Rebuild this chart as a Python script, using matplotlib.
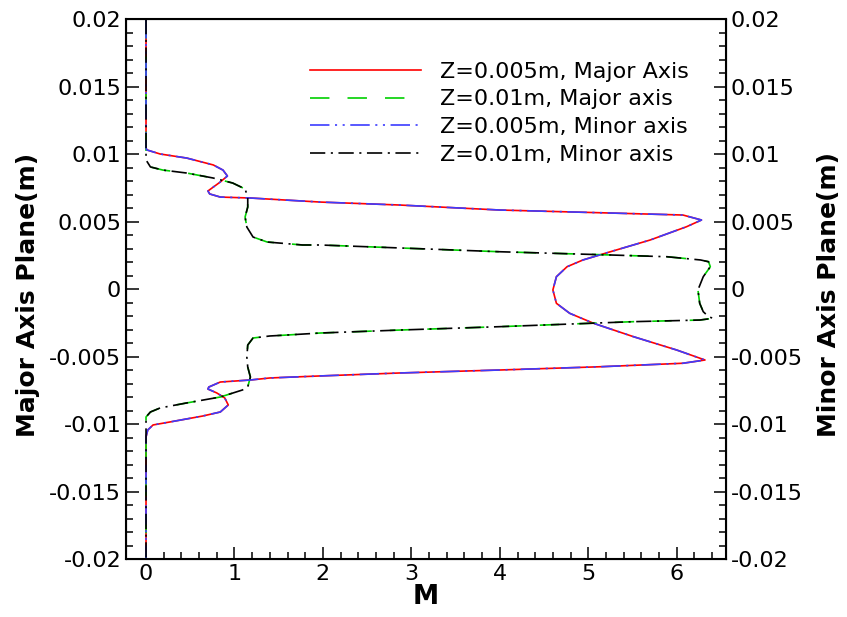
import matplotlib
matplotlib.use("Agg")
import matplotlib.pyplot as plt

plt.rcParams["font.family"] = ["DejaVu Sans"]
plt.rcParams["lines.scale_dashes"] = False

# ── Data (Mach number M vs. position on the axis plane, m) ────────────────────
m_z005 = [0, 0, 0.01, 0.16, 0.46, 0.76, 0.87, 0.92, 0.84, 0.70, 0.72, 0.84, 1.18,
          1.97, 2.87, 4.00, 5.13, 6.07, 6.28, 6.11, 5.70, 5.25, 4.94, 4.76, 4.64,
          4.60, 4.64, 4.79, 5.06, 5.51, 6.00, 6.32, 6.07, 5.13, 4.00, 2.87, 1.97,
          1.40, 1.18, 0.84, 0.71, 0.70, 0.80, 0.89, 0.93, 0.84, 0.64, 0.27, 0.08,
          0.02, 0, 0]
y_z005 = [0.0200, 0.01044, 0.01030, 0.01000, 0.00970, 0.00919, 0.00881, 0.00837,
          0.00793, 0.00726, 0.00704, 0.00681, 0.00674, 0.00644, 0.00622, 0.00585,
          0.00565, 0.00548, 0.00511, 0.00461, 0.00363, 0.00276, 0.00215, 0.00165,
          0.00091, -0.00007, -0.00106, -0.00180, -0.00254, -0.00353, -0.00452,
          -0.00526, -0.00550, -0.00576, -0.00600, -0.00622, -0.00644, -0.00659,
          -0.00674, -0.00689, -0.00726, -0.00741, -0.00770, -0.00807, -0.00859,
          -0.00911, -0.00941, -0.00985, -0.01007, -0.01044, -0.01096, -0.0200]

m_z01 = [0, 0, 0.05, 0.19, 0.46, 0.76, 0.98, 1.12, 1.15, 1.15, 1.12, 1.14, 1.21,
         1.37, 1.77, 1.97, 2.87, 4.00, 5.25, 5.89, 6.27, 6.36, 6.38, 6.30, 6.24,
         6.26, 6.30, 6.36, 6.41, 6.26, 5.51, 4.00, 2.87, 1.97, 1.59, 1.40, 1.21,
         1.15, 1.14, 1.15, 1.18, 1.15, 1.09, 0.84, 0.46, 0.16, 0.05, 0, 0]
y_z01 = [0.0200, 0.00956, 0.00904, 0.00881, 0.00859, 0.00822, 0.00785, 0.00741,
         0.00681, 0.00607, 0.00533, 0.00459, 0.00385, 0.00348, 0.00326, 0.00326,
         0.00304, 0.00276, 0.00252, 0.00239, 0.00215, 0.00202, 0.00165, 0.00091,
         -0.00007, -0.00106, -0.00168, -0.00205, -0.00217, -0.00230, -0.00242,
         -0.00279, -0.00304, -0.00326, -0.00341, -0.00348, -0.00363, -0.00415,
         -0.00504, -0.00578, -0.00652, -0.00726, -0.00748, -0.00800, -0.00844,
         -0.00881, -0.00911, -0.00948, -0.0200]

y_ticks = [-0.02, -0.015, -0.01, -0.005, 0, 0.005, 0.01, 0.015, 0.02]
y_tick_labels = ["-0.02", "-0.015", "-0.01", "-0.005", "0", "0.005", "0.01", "0.015", "0.02"]
x_ticks = [0, 1, 2, 3, 4, 5, 6]

# ── Plot ──────────────────────────────────────────────────────────────────────
fig = plt.figure(figsize=(8.47, 6.17), dpi=100)
ax = fig.add_axes([0.1488, 0.094, 0.708, 0.8752])

lw = 1.2
ax.plot(m_z005, y_z005, color="#ff0000", linewidth=lw, label="Z=0.005m, Major Axis")
ax.plot(m_z01, y_z01, color="#00d000", linewidth=lw, linestyle=(0, (14, 13)),
        label="Z=0.01m, Major axis")
ax.plot(m_z005, y_z005, color="#3c3cff", linewidth=lw,
        linestyle=(0, (14, 4, 1.5, 4, 1.5, 4)), label="Z=0.005m, Minor axis")
ax.plot(m_z01, y_z01, color="black", linewidth=lw,
        linestyle=(0, (11, 4, 1.5, 4)), label="Z=0.01m, Minor axis")

ax.set_xlim(-0.226, 6.554)
ax.set_ylim(-0.02, 0.02)
ax.set_xticks(x_ticks)
ax.set_xticks([i * 0.2 for i in range(0, 33)], minor=True)
ax.set_yticks(y_ticks)
ax.set_yticklabels(y_tick_labels)
ax.set_yticks([i * 0.001 for i in range(-20, 21)], minor=True)

ax.tick_params(which="both", direction="in", top=False, right=False,
               labelsize=16, width=1.1)
ax.tick_params(which="major", length=9)
ax.tick_params(which="minor", length=5)
for s in ax.spines.values():
    s.set_linewidth(1.5)

ax.set_xlabel("M", fontsize=19, fontweight="bold", labelpad=0)
ax.set_ylabel("Major Axis Plane(m)", fontsize=18, fontweight="bold")
ax.yaxis.set_label_coords(-0.143, 0.489)

ax2 = ax.twinx()
ax2.set_ylim(-0.02, 0.02)
ax2.set_yticks(y_ticks)
ax2.set_yticklabels(y_tick_labels)
ax2.set_yticks([i * 0.001 for i in range(-20, 21)], minor=True)
ax2.tick_params(which="both", direction="in", labelsize=16, width=1.1)
ax2.tick_params(which="major", length=9)
ax2.tick_params(which="minor", length=5)
ax2.set_ylabel("Minor Axis Plane(m)", fontsize=18, fontweight="bold")
ax2.yaxis.set_label_coords(1.152, 0.489)

ax.legend(loc="upper left", bbox_to_anchor=(0.366, 0.900), bbox_transform=fig.transFigure,
          frameon=False, fontsize=16, handlelength=5.0, handletextpad=0.85,
          labelspacing=0.35, borderpad=0, borderaxespad=0)

fig.savefig("out.png", dpi=100)
